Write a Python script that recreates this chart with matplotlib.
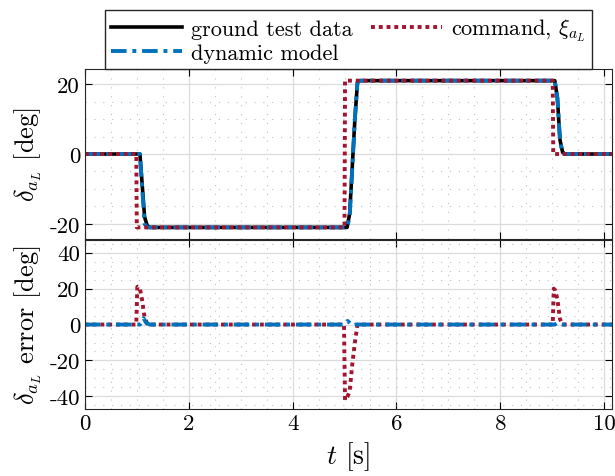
import matplotlib.pyplot as plt
from matplotlib.ticker import MultipleLocator, FuncFormatter

plt.rcParams['font.family'] = 'serif'
plt.rcParams['font.serif'] = ['cmr10', 'DejaVu Serif']
plt.rcParams['mathtext.fontset'] = 'cm'
plt.rcParams['axes.unicode_minus'] = False

# ---- data ----
ground_t = [0, 1.06, 1.10, 1.15, 1.20, 1.25, 5.05, 5.10, 5.20, 5.25, 5.30, 9.05, 9.10, 9.15, 9.20, 9.25, 10.2]
ground_v = [0, 0, -8, -18, -20.5, -21, -21, -17, 10, 20.5, 21, 21, 16, 4, 0.5, 0, 0]

model_t = [0, 1.06, 1.10, 1.15, 1.20, 1.25, 5.05, 5.10, 5.20, 5.25, 5.30, 9.05, 9.10, 9.15, 9.20, 9.25, 10.2]
model_v = [0, 0, -9, -20, -21, -21, -21, -18, 10, 20.5, 21, 21, 16, 4, 0, 0, 0]

cmd_t = [0, 0.99, 1.00, 5.00, 5.01, 9.01, 9.02, 10.2]
cmd_v = [0, 0, -21, -21, 21, 21, 0, 0]

cmd_err_t = [0, 0.99, 1.01, 1.06, 1.10, 1.15, 1.20, 1.25, 4.99, 5.01, 5.06, 5.10, 5.15, 5.20, 5.25, 9.01, 9.03, 9.06, 9.10, 9.15, 9.20, 10.2]
cmd_err_v = [0, 0, 21, 20, 14, 4, 0.5, 0, 0, -42, -40, -37, -22, -10, 0, 0, 20, 19, 14, 3, 0, 0]

mod_err_t = [0, 1.06, 1.10, 1.13, 1.18, 1.25, 5.0, 5.06, 5.10, 5.15, 5.22, 9.05, 9.10, 9.14, 9.20, 10.2]
mod_err_v = [0, 0, 1.5, 3.5, 1.0, 0, 0, 2.0, 1.0, -0.5, 0, 0, 1.0, 0.3, 0, 0]

blue = '#0072BD'
red = '#A2142F'

fig = plt.figure(figsize=(6.15, 4.77), dpi=100)
ax1 = fig.add_axes([0.138, 0.497, 0.857, 0.356])
ax2 = fig.add_axes([0.138, 0.1405, 0.857, 0.354])

dashdot = (0, (4, 1.5, 1, 1.5))
l1, = ax1.plot(ground_t, ground_v, color='black', lw=2.6, label='ground test data')
l2, = ax1.plot(model_t, model_v, color=blue, lw=2.8, ls=dashdot, label='dynamic model')
l3, = ax1.plot(cmd_t, cmd_v, color=red, lw=2.8, ls=(0, (1, 1)), label=r'command, $\xi_{a_L}$')

ax2.plot(cmd_err_t, cmd_err_v, color=red, lw=2.8, ls=(0, (1, 1)))
ax2.plot(mod_err_t, mod_err_v, color=blue, lw=2.8, ls=dashdot)

fmt = FuncFormatter(lambda v, p: '%d' % v)
for ax in (ax1, ax2):
    ax.set_xlim(0, 10.15)
    ax.xaxis.set_major_locator(MultipleLocator(2))
    ax.xaxis.set_minor_locator(MultipleLocator(0.5))
    ax.yaxis.set_minor_locator(MultipleLocator(5))
    ax.grid(True, which='major', color='#dcdcdc', lw=0.9)
    ax.grid(True, which='minor', color='#c0c0c0', ls=(0, (1, 7)), lw=0.8)
    ax.tick_params(which='both', direction='in', top=True, right=True, labelsize=16.5)
    ax.tick_params(which='minor', length=0)
    ax.tick_params(which='major', length=5, width=0.8)
    ax.yaxis.set_major_formatter(fmt)
    ax.xaxis.set_major_formatter(fmt)
    for s in ax.spines.values():
        s.set_color('#262626')
        s.set_linewidth(0.8)
    ax.set_axisbelow(True)

ax1.set_ylim(-24.3, 24.3)
ax1.yaxis.set_major_locator(MultipleLocator(20))
ax1.tick_params(labelbottom=False)
ax1.set_ylabel(r'$\delta_{a_L}$ [deg]', fontsize=19)

ax2.set_ylim(-47, 47)
ax2.yaxis.set_major_locator(MultipleLocator(20))
ax2.set_ylabel(r'$\delta_{a_L}$ error [deg]', fontsize=19)
ax2.set_xlabel(r'$t$ [s]', fontsize=20)

fig.align_ylabels([ax1, ax2])

fig.legend(handles=[l1, l2, l3], ncol=2, loc='upper center', bbox_to_anchor=(0.566, 1.0),
           fontsize=16, frameon=True, fancybox=False, edgecolor='#262626',
           handlelength=3.2, handletextpad=0.4, columnspacing=0.8, labelspacing=0.2,
           borderpad=0.3, framealpha=1)

fig.savefig('out.png', dpi=100)
